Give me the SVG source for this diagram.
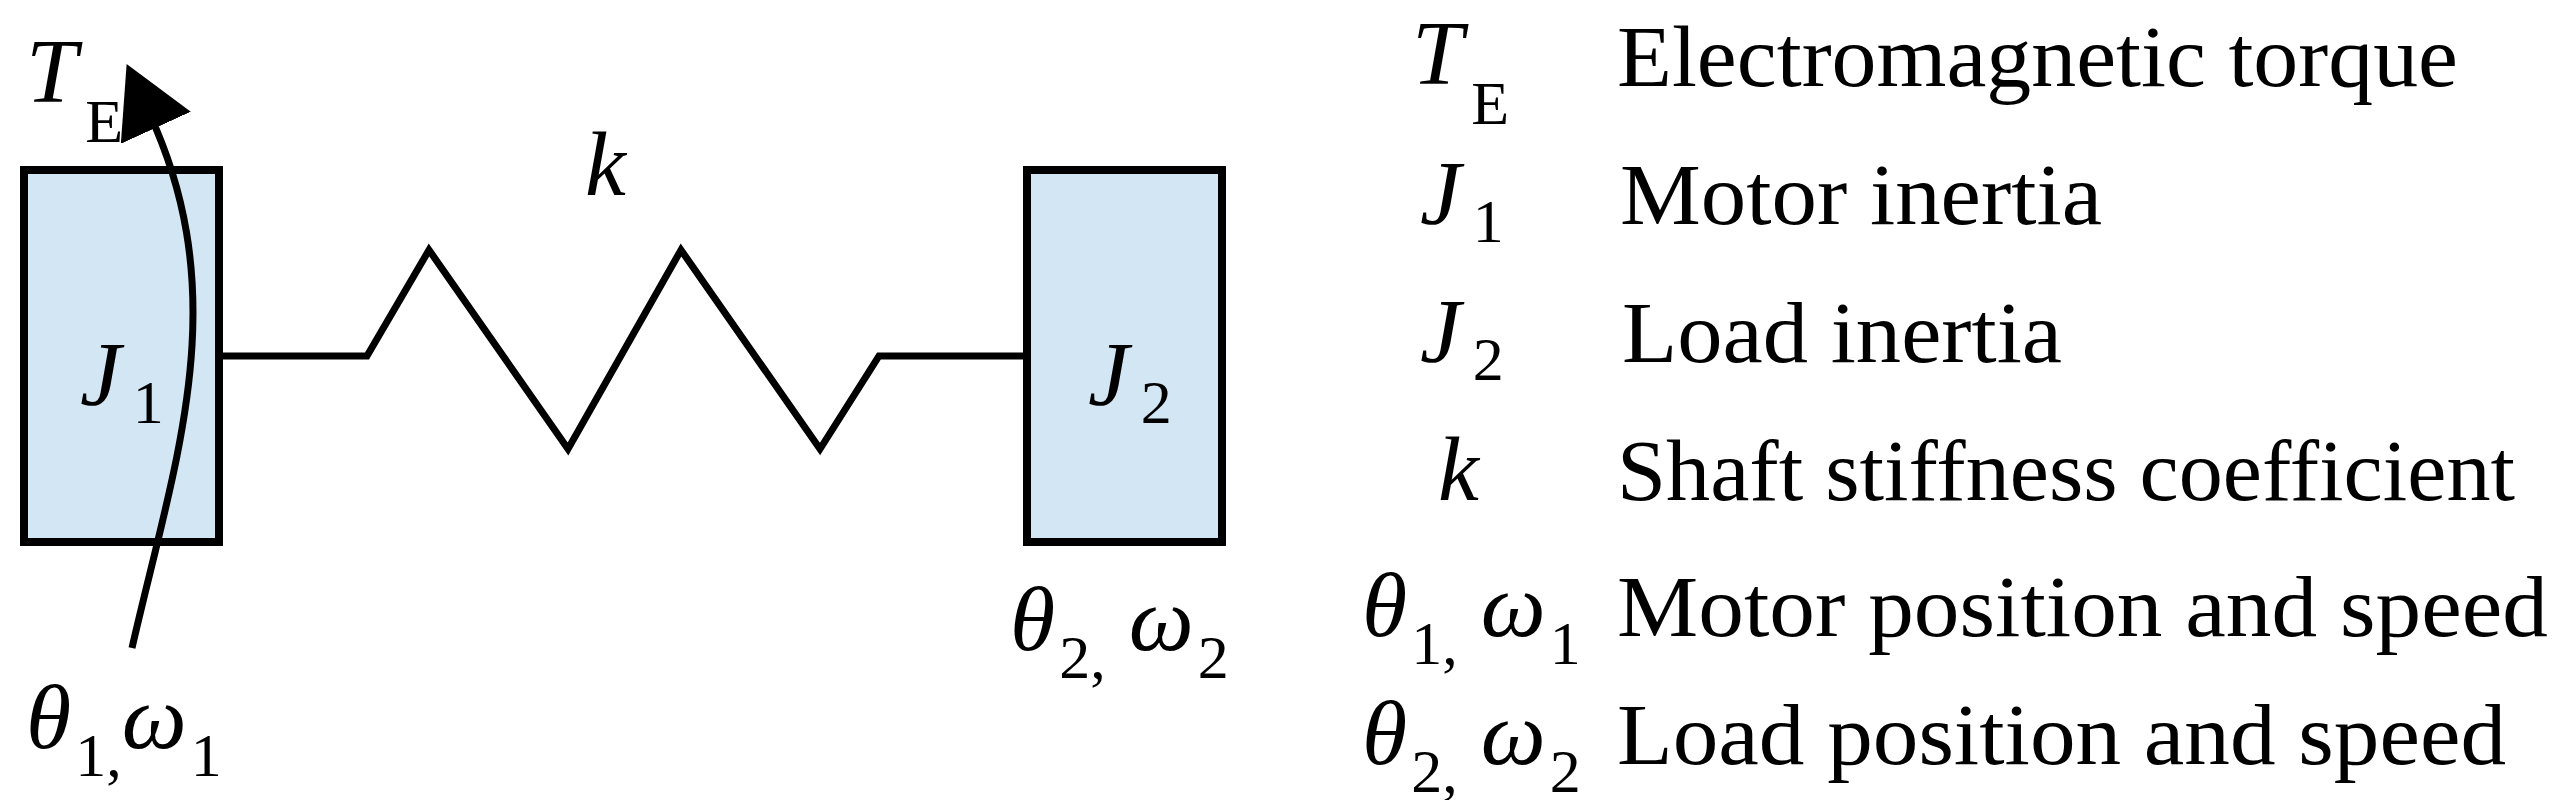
<svg xmlns="http://www.w3.org/2000/svg" width="2561" height="800" viewBox="0 0 2561 800">
<style>
.box{fill:#d2e6f4;stroke:#000;stroke-width:8}
.ln{fill:none;stroke:#000;stroke-width:7}
.m{font-family:"Liberation Serif","Times New Roman",serif;font-style:italic;font-size:92px}
.s{font-family:"Liberation Serif","Times New Roman",serif;font-size:62px;font-style:normal}
.t{font-family:"Liberation Serif","Times New Roman",serif;font-size:86px}
</style>
<defs><marker id="ah" markerWidth="12" markerHeight="12" refX="2" refY="5.5" orient="auto" markerUnits="strokeWidth"><path d="M0,0 L10,5.5 L0,11 z" fill="#000"/></marker></defs>
<rect width="2561" height="800" fill="#fff"/>
<g id="J1"><rect class="box" x="24" y="170" width="195" height="372"/><text class="m" x="80" y="405">J<tspan class="s" dx="12" dy="18">1</tspan></text></g>
<g id="J2"><rect class="box" x="1027" y="170" width="195" height="372"/><text class="m" x="1088" y="405">J<tspan class="s" dx="12" dy="18">2</tspan></text></g>
<g id="connectors">
<polyline class="ln" points="219,356 367,356 429,250 568,449 681,250 820,449 879,356 1027,356"/>
<path class="ln" d="M132,648 C175,460 235,300 150,115" marker-end="url(#ah)"/>
</g>
<text class="m" x="26" y="102">T<tspan class="s" dx="8" dy="40">E</tspan></text>
<text class="m" x="585" y="195">k</text>
<text class="m" x="1010" y="650">θ<tspan class="s" dx="4" dy="28">2,</tspan><tspan dy="-28"> ω</tspan><tspan class="s" dx="4" dy="28">2</tspan></text>
<text class="m" x="26" y="748">θ<tspan class="s" dx="4" dy="28">1,</tspan><tspan dy="-28">ω</tspan><tspan class="s" dx="4" dy="28">1</tspan></text>
<g id="legend">
<text class="m" x="1412" y="84">T<tspan class="s" dx="8" dy="40">E</tspan></text>
<text class="t" x="1617" y="86" textLength="841" lengthAdjust="spacingAndGlyphs">Electromagnetic torque</text>
<text class="m" x="1420" y="224">J<tspan class="s" dx="12" dy="18">1</tspan></text>
<text class="t" x="1620" y="224" textLength="482" lengthAdjust="spacingAndGlyphs">Motor inertia</text>
<text class="m" x="1420" y="362">J<tspan class="s" dx="12" dy="18">2</tspan></text>
<text class="t" x="1622" y="362" textLength="440" lengthAdjust="spacingAndGlyphs">Load inertia</text>
<text class="m" x="1438" y="500">k</text>
<text class="t" x="1617" y="500" textLength="898" lengthAdjust="spacingAndGlyphs">Shaft stiffness coefficient</text>
<text class="m" x="1362" y="636">θ<tspan class="s" dx="4" dy="28">1,</tspan><tspan dy="-28"> ω</tspan><tspan class="s" dx="4" dy="28">1</tspan></text>
<text class="t" x="1617" y="636" textLength="931" lengthAdjust="spacingAndGlyphs">Motor position and speed</text>
<text class="m" x="1362" y="764">θ<tspan class="s" dx="4" dy="28">2,</tspan><tspan dy="-28"> ω</tspan><tspan class="s" dx="4" dy="28">2</tspan></text>
<text class="t" x="1617" y="764" textLength="889" lengthAdjust="spacingAndGlyphs">Load position and speed</text>
</g>
</svg>
